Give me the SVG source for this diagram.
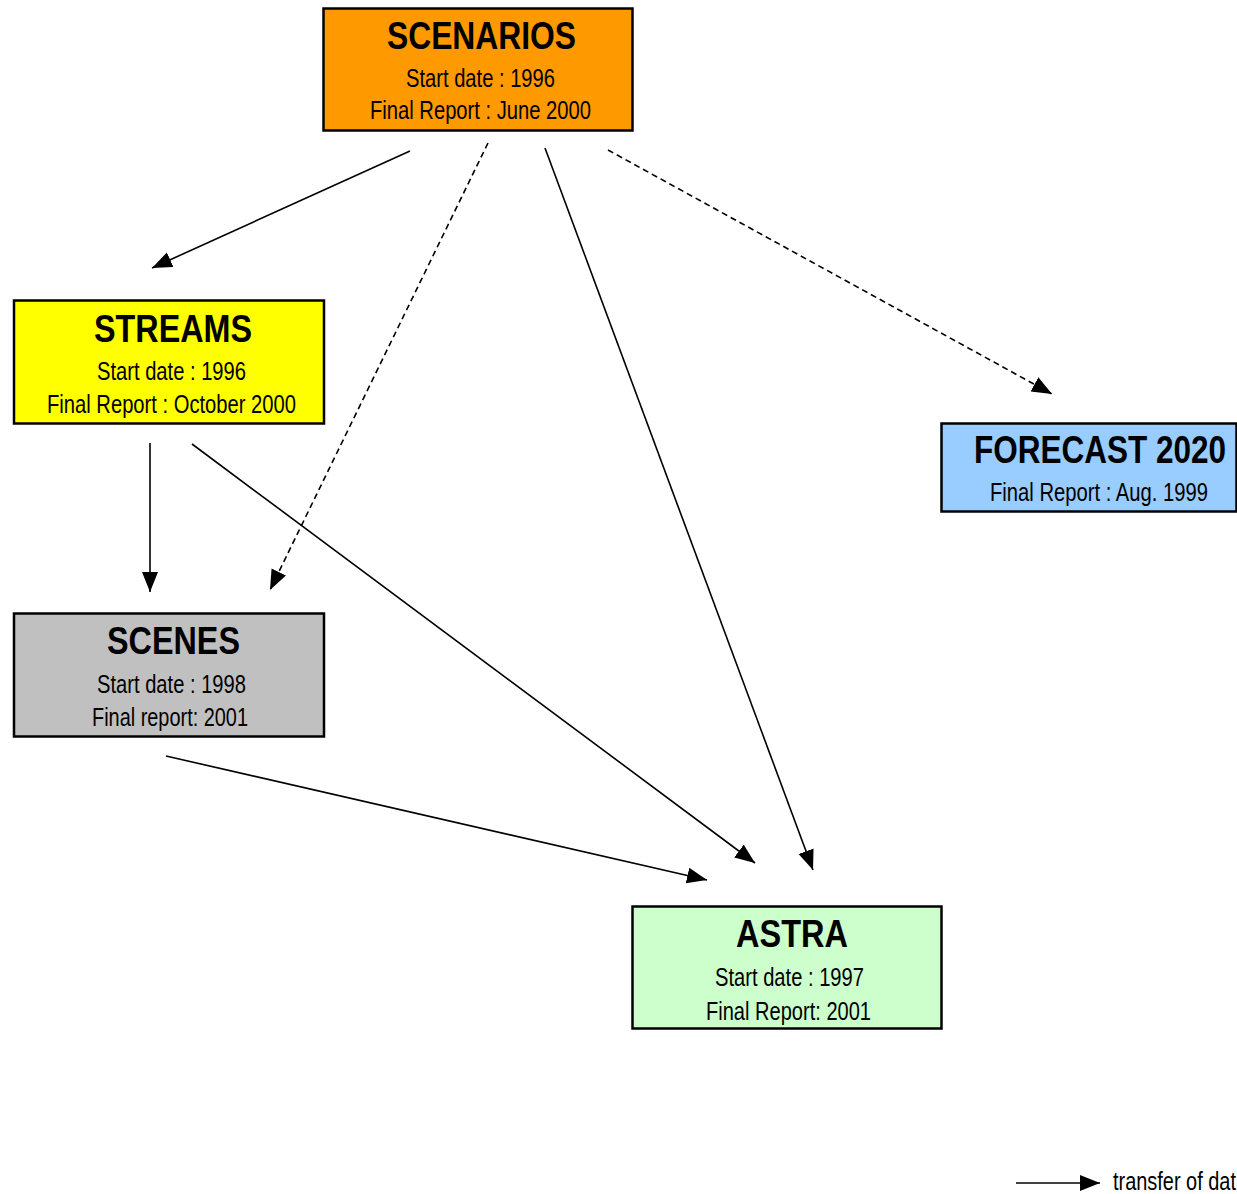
<svg xmlns="http://www.w3.org/2000/svg" width="1237" height="1194" viewBox="0 0 1237 1194">
<style>
.box{stroke:#000;stroke-width:2.5}
.t{font-family:"Liberation Sans",Arial,sans-serif;font-weight:bold;font-size:38px;fill:#000}
.s{font-family:"Liberation Sans",Arial,sans-serif;font-size:25px;fill:#000}
.c{stroke:#000;stroke-width:1.6;fill:none;marker-end:url(#ah)}
.d{stroke-dasharray:6 4}
</style>
<defs>
<marker id="ah" markerUnits="userSpaceOnUse" markerWidth="22" markerHeight="18" refX="20" refY="8" orient="auto">
<path d="M0,0 L20,8 L0,16 z" fill="#000"/>
</marker>
</defs>
<rect width="1237" height="1194" fill="#fff"/>
<g id="connectors">
<line class="c" x1="410" y1="151" x2="152" y2="268"/>
<line class="c d" x1="488" y1="143" x2="270" y2="590"/>
<line class="c" x1="545" y1="148" x2="813" y2="870"/>
<line class="c d" x1="608" y1="150" x2="1052" y2="394"/>
<line class="c" x1="150" y1="443" x2="150" y2="592"/>
<line class="c" x1="192" y1="444" x2="755" y2="863"/>
<line class="c" x1="166" y1="756" x2="707" y2="880"/>
</g>
<g id="scenarios">
<rect class="box" x="323.5" y="8.5" width="309" height="122" fill="#FF9900"/>
<text class="t" x="387" y="49" textLength="189" lengthAdjust="spacingAndGlyphs">SCENARIOS</text>
<text class="s" x="406" y="87" textLength="149" lengthAdjust="spacingAndGlyphs">Start date : 1996</text>
<text class="s" x="370" y="119" textLength="221" lengthAdjust="spacingAndGlyphs">Final Report : June 2000</text>
</g>
<g id="streams">
<rect class="box" x="14" y="300.5" width="310" height="123" fill="#FFFF00"/>
<text class="t" x="94" y="342" textLength="158" lengthAdjust="spacingAndGlyphs">STREAMS</text>
<text class="s" x="97" y="380" textLength="149" lengthAdjust="spacingAndGlyphs">Start date : 1996</text>
<text class="s" x="47" y="413" textLength="249" lengthAdjust="spacingAndGlyphs">Final Report : October 2000</text>
</g>
<g id="forecast2020">
<rect class="box" x="941.5" y="423.5" width="295" height="88" fill="#99CCFF"/>
<text class="t" x="974" y="463" textLength="252" lengthAdjust="spacingAndGlyphs">FORECAST 2020</text>
<text class="s" x="990" y="501" textLength="218" lengthAdjust="spacingAndGlyphs">Final Report : Aug. 1999</text>
</g>
<g id="scenes">
<rect class="box" x="14" y="613.5" width="310" height="123" fill="#C0C0C0"/>
<text class="t" x="107" y="654" textLength="133" lengthAdjust="spacingAndGlyphs">SCENES</text>
<text class="s" x="97" y="693" textLength="149" lengthAdjust="spacingAndGlyphs">Start date : 1998</text>
<text class="s" x="92" y="726" textLength="156" lengthAdjust="spacingAndGlyphs">Final report: 2001</text>
</g>
<g id="astra">
<rect class="box" x="632.5" y="906.5" width="309" height="122" fill="#CCFFCC"/>
<text class="t" x="736" y="947" textLength="112" lengthAdjust="spacingAndGlyphs">ASTRA</text>
<text class="s" x="715" y="986" textLength="149" lengthAdjust="spacingAndGlyphs">Start date : 1997</text>
<text class="s" x="706" y="1020" textLength="165" lengthAdjust="spacingAndGlyphs">Final Report: 2001</text>
</g>
<g id="legend">
<line class="c" x1="1016" y1="1183" x2="1100" y2="1183"/>
<text class="s" x="1113" y="1190" textLength="123" lengthAdjust="spacingAndGlyphs">transfer of dat</text>
</g>
</svg>
